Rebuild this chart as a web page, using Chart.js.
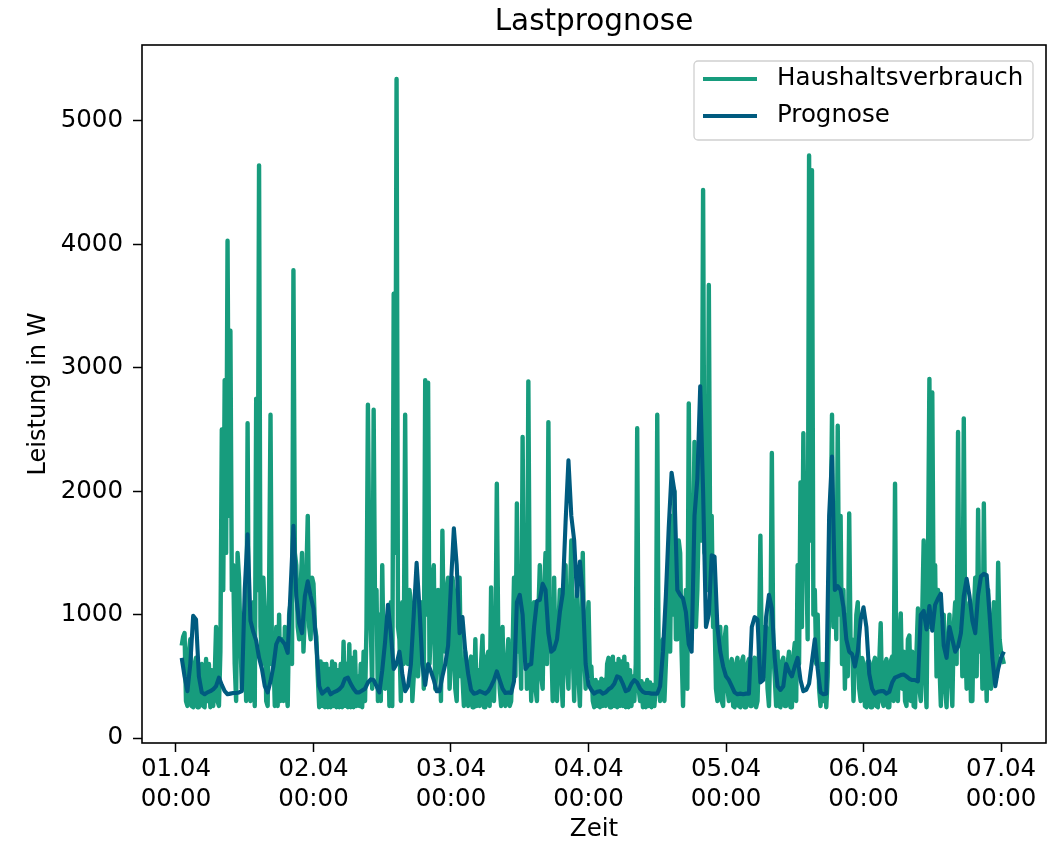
<!DOCTYPE html>
<html>
<head>
<meta charset="utf-8">
<title>Lastprognose</title>
<script src="https://cdn.jsdelivr.net/npm/chart.js@4.4.1/dist/chart.umd.min.js"></script>
<style>
  html, body { margin: 0; padding: 0; background: #fff; }
</style>
</head>
<body>
<canvas id="chart" width="1055" height="842"></canvas>
<script>
// time axis: hours since 01.04 00:00
var startHour = 1;
var stepVerbrauch = 0.25;   // measurement every 15 minutes
var stepPrognose = 0.5;     // forecast every 30 minutes

var tickHours = [0, 24, 48, 72, 96, 120, 144];
var tickDates = ['01.04', '02.04', '03.04', '04.04', '05.04', '06.04', '07.04'];
var tickTimes = ['00:00', '00:00', '00:00', '00:00', '00:00', '00:00', '00:00'];
var yTicks = [0, 1000, 2000, 3000, 4000, 5000];

// measured household load in W, one row per hour
var verbrauch = [
  // 01.04 (from 01:00)
  750, 820, 850, 300,   260, 700, 800, 260,   250, 600, 650, 250,   250, 550, 600, 260,
  250, 640, 300, 600,   250, 550, 260, 480,   900, 300, 260, 700,   2500, 1200, 2900, 1500,
  4030, 1800, 3300, 1200,   1400, 600, 300, 1500,   1300, 800, 400, 1000,   900, 300, 2550, 400,
  300, 800, 1100, 260,   2750, 1200, 4640, 900,   600, 1300, 1000, 300,   260, 1200, 2620, 600,
  700, 260, 900, 260,   1000, 300, 800, 300,   900, 400, 260, 1000,   1100, 600, 3790, 1500,
  1400, 900, 800, 1200,   1500, 700, 1000, 1300,   1800, 900, 800, 1300,
  // 02.04
  1250, 900, 820, 500,   250, 620, 260, 600,   250, 600, 250, 560,   250, 620, 260, 600,
  250, 550, 250, 600,   250, 780, 260, 600,   250, 760, 250, 650,   250, 700, 260, 500,
  260, 600, 250, 700,   300, 900, 2700, 1400,   900, 400, 2660, 1000,   1200, 300, 1000, 300,
  1400, 600, 400, 900,   1000, 260, 1100, 260,   3600, 1500, 5340, 900,   800, 300, 1100, 600,
  2620, 800, 600, 1200,   1100, 300, 500, 1000,   1300, 500, 700, 1100,   900, 400, 2900, 1000,
  2880, 600, 900, 1300,   1400, 400, 600, 1200,   1100, 300, 1680, 800,   700, 1200, 1300, 400,
  // 03.04
  600, 1300, 1200, 400,   300, 1100, 1300, 500,   500, 260, 700, 300,   260, 600, 660, 250,
  250, 800, 260, 550,   260, 600, 830, 250,   250, 650, 700, 260,   1220, 400, 300, 700,
  2060, 800, 400, 260,   900, 300, 260, 600,   800, 260, 300, 700,   1300, 500, 1900, 700,
  900, 400, 2440, 900,   1200, 400, 2890, 1000,   300, 800, 1100, 400,   300, 1000, 1400, 500,
  400, 1200, 1500, 600,   2560, 700, 800, 300,   1300, 600, 300, 900,   1200, 500, 260, 1000,
  1400, 600, 400, 1100,   1600, 700, 300, 1000,   1200, 500, 260, 900,   1500, 700, 400, 900,
  // 04.04
  1100, 500, 580, 300,   250, 470, 260, 450,   250, 480, 260, 470,   260, 600, 650, 250,
  250, 660, 260, 600,   250, 640, 260, 620,   260, 660, 250, 600,   250, 550, 260, 500,
  300, 600, 2510, 400,   300, 460, 250, 440,   250, 470, 260, 450,   250, 430, 260, 420,
  2620, 500, 300, 700,   800, 300, 600, 900,   1500, 700, 1800, 1000,   2000, 800, 800, 1600,
  1500, 700, 260, 900,   1200, 400, 2710, 1100,   800, 1500, 2400, 900,   1200, 1800, 2450, 1600,
  4440, 1500, 2500, 1200,   3670, 1400, 1800, 900,   1000, 400, 300, 700,   900, 300, 260, 800,
  // 05.04
  900, 400, 300, 600,   640, 260, 250, 600,   650, 260, 250, 620,   660, 250, 250, 600,
  640, 260, 260, 620,   650, 250, 300, 700,   1640, 600, 500, 900,   900, 400, 260, 800,
  2310, 700, 500, 260,   700, 260, 250, 620,   650, 260, 260, 600,   700, 250, 250, 650,
  770, 300, 1400, 600,   2070, 900, 2470, 1300,   1500, 800, 4720, 1600,   4600, 1000, 1200, 600,
  1000, 400, 260, 600,   300, 600, 250, 500,   1000, 1600, 2620, 900,   1500, 800, 2530, 1000,
  1800, 600, 1200, 400,   1000, 500, 1820, 700,   800, 300, 600, 1000,   1100, 400, 300, 650,
  // 06.04
  600, 260, 250, 620,   620, 250, 250, 600,   650, 260, 250, 620,   930, 300, 260, 600,
  640, 250, 250, 620,   660, 300, 2060, 400,   300, 800, 1010, 400,   700, 300, 260, 800,
  830, 300, 700, 260,   250, 700, 1050, 400,   300, 1000, 1600, 500,   250, 1400, 2910, 900,
  2800, 1000, 1400, 500,   1200, 600, 260, 900,   1000, 400, 250, 800,   1000, 500, 260, 900,
  1100, 600, 2480, 900,   1200, 500, 2590, 800,   400, 900, 1100, 300,   300, 1000, 1300, 500,
  1850, 700, 1100, 400,   1900, 800, 300, 1200,   900, 400, 800, 1100,   1000, 500, 1420, 800,
  // 07.04
  700, 650, 600
];

// forecast in W
var prognose = [
  // 01.04 (from 01:00)
  650, 500, 380, 600, 990, 960, 500, 370, 355, 370, 380, 395, 420, 490, 430, 380,
  355, 360, 365, 365, 370, 380, 1200, 1650, 950, 860, 790, 650, 560, 420, 370, 460,
  580, 760, 810, 790, 760, 690, 1200, 1720, 1150, 930, 850, 1150, 1270, 1150,
  // 02.04
  1050, 750, 420, 360, 380, 400, 355, 370, 380, 395, 420, 480, 490, 440, 400, 370,
  370, 385, 400, 450, 475, 470, 420, 370, 550, 780, 1080, 850, 560, 600, 700, 520,
  380, 420, 600, 1000, 1420, 1050, 600, 430, 600, 540, 470, 380, 380, 500, 600, 750,
  // 03.04
  1250, 1700, 1400, 850, 980, 700, 520, 390, 360, 365, 380, 370, 360, 380, 420, 470,
  540, 470, 400, 365, 370, 365, 460, 1100, 1160, 1000, 560, 590, 600, 900, 1110, 1120,
  1250, 1200, 850, 700, 720, 800, 1020, 1170, 1750, 2250, 1800, 1600, 1150, 1430, 1170, 600,
  // 04.04
  430, 390, 360, 375, 380, 360, 370, 395, 410, 440, 500, 490, 440, 380, 390, 440,
  470, 450, 400, 375, 365, 365, 360, 360, 360, 420, 700, 1150, 1700, 2150, 2000, 1200,
  1160, 1130, 1020, 760, 700, 1800, 2100, 2850, 2000, 900, 1000, 1480, 1470, 900, 700, 580,
  // 05.04
  500, 470, 420, 370, 355, 360, 355, 360, 360, 900, 980, 960, 450, 470, 980, 1160,
  1050, 650, 420, 390, 420, 600, 540, 500, 580, 650, 470, 380, 390, 440, 620, 800,
  560, 370, 355, 360, 1800, 2280, 1200, 1230, 1200, 1060, 800, 700, 680, 580, 700, 960,
  // 06.04
  1060, 900, 520, 400, 360, 375, 380, 380, 360, 375, 450, 490, 500, 510, 515, 500,
  480, 470, 470, 460, 1000, 1030, 880, 1070, 870, 1080, 1130, 1170, 750, 650, 900, 800,
  700, 740, 850, 1150, 1290, 1150, 950, 850, 1160, 1310, 1330, 1320, 1000, 650, 420, 560,
  // 07.04
  650, 700
];

function toPoints(values, step) {
  return values.map(function (v, i) {
    return { x: startHour + i * step, y: v };
  });
}

var font = 'DejaVu Sans';

// black box round the plot area, like matplotlib spines
var framePlugin = {
  id: 'frame',
  afterDatasetsDraw: function (chart) {
    var a = chart.chartArea;
    var ctx = chart.ctx;
    ctx.save();
    ctx.strokeStyle = '#000';
    ctx.lineWidth = 1.6;
    ctx.strokeRect(a.left, a.top, a.right - a.left, a.bottom - a.top);
    ctx.restore();
  }
};

// legend box inside the upper right corner
var legendBox = {
  id: 'legendBox',
  afterDraw: function (chart) {
    var a = chart.chartArea;
    var ctx = chart.ctx;
    var w = 339, h = 79;
    var x0 = a.right - 13 - w, y0 = a.top + 16;
    ctx.save();
    ctx.beginPath();
    ctx.roundRect(x0, y0, w, h, 4);
    ctx.fillStyle = 'rgba(255,255,255,0.8)';
    ctx.fill();
    ctx.strokeStyle = '#d0d0d0';
    ctx.lineWidth = 1.3;
    ctx.stroke();
    chart.data.datasets.forEach(function (ds, i) {
      var y = y0 + 18 + i * 37;
      ctx.beginPath();
      ctx.moveTo(x0 + 9, y);
      ctx.lineTo(x0 + 63, y);
      ctx.strokeStyle = ds.borderColor;
      ctx.lineWidth = 3.8;
      ctx.stroke();
      ctx.fillStyle = '#000';
      ctx.font = '24.5px "' + font + '"';
      ctx.textBaseline = 'middle';
      ctx.fillText(ds.label, x0 + 83, y);
    });
    ctx.restore();
  }
};

var config = {
  type: 'line',
  data: {
    datasets: [
      {
        label: 'Haushaltsverbrauch',
        data: toPoints(verbrauch, stepVerbrauch),
        borderColor: '#179C7D',
        backgroundColor: '#179C7D',
        borderWidth: 4.4,
        pointRadius: 0,
        tension: 0,
        borderJoinStyle: 'round',
        order: 2
      },
      {
        label: 'Prognose',
        data: toPoints(prognose, stepPrognose),
        borderColor: '#005B7F',
        backgroundColor: '#005B7F',
        borderWidth: 4.1,
        pointRadius: 0,
        tension: 0,
        borderJoinStyle: 'round',
        order: 1
      }
    ]
  },
  options: {
    responsive: false,
    animation: false,
    devicePixelRatio: 1,
    layout: { padding: { left: 0, right: 9, top: 0, bottom: 0 } },
    plugins: {
      legend: { display: false },
      tooltip: { enabled: false },
      title: {
        display: true,
        text: 'Lastprognose',
        fullSize: false,
        color: '#000',
        font: { family: font, size: 29.5, weight: 'normal', lineHeight: 1.2 },
        padding: { top: 5, bottom: 4.6 }
      }
    },
    scales: {
      x: {
        type: 'linear',
        min: -5.93,
        max: 151.85,
        afterBuildTicks: function (scale) {
          scale.ticks = tickHours.map(function (v) { return { value: v }; });
        },
        afterFit: function (scale) { scale.height = 99; },
        ticks: {
          autoSkip: false,
          maxRotation: 0,
          color: '#000',
          padding: 3,
          font: { family: font, size: 24.5, lineHeight: 1.22 },
          callback: function (value) {
            var i = tickHours.indexOf(value);
            return [tickDates[i], tickTimes[i]];
          }
        },
        grid: { drawOnChartArea: false, tickLength: 9, tickWidth: 1.5, color: '#000' },
        border: { display: false },
        title: {
          display: true,
          text: 'Zeit',
          color: '#000',
          font: { family: font, size: 24.5, lineHeight: 1 },
          padding: 0
        }
      },
      y: {
        type: 'linear',
        min: -40,
        max: 5615,
        afterBuildTicks: function (scale) {
          scale.ticks = yTicks.map(function (v) { return { value: v }; });
        },
        afterFit: function (scale) { scale.width = 142; },
        ticks: {
          color: '#000',
          padding: 10,
          font: { family: font, size: 24.5 },
          callback: function (value) { return String(value); }
        },
        grid: { drawOnChartArea: false, tickLength: 9, tickWidth: 1.5, color: '#000' },
        border: { display: false },
        title: {
          display: true,
          text: 'Leistung in W',
          color: '#000',
          font: { family: font, size: 24, lineHeight: 1.2 },
          padding: { top: 24, bottom: 0 }
        }
      }
    }
  },
  plugins: [framePlugin, legendBox]
};

window.onload = function () {
  var ctx = document.getElementById('chart').getContext('2d');
  window.myLine = new Chart(ctx, config);
};
</script>
</body>
</html>
